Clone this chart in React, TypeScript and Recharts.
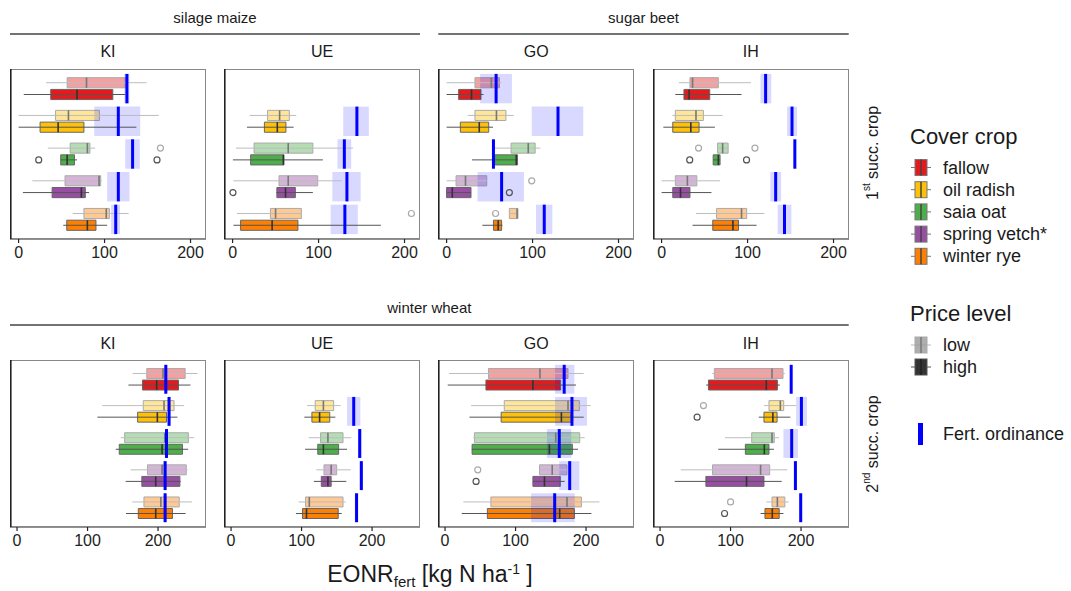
import React from 'react';
import { ComposedChart, XAxis, YAxis, Scatter, ReferenceArea, ReferenceLine } from 'recharts';

// ---------- categories ----------
const coverCrops = ['fallow', 'oil radish', 'saia oat', 'spring vetch*', 'winter rye'];
const priceLevels = ['low', 'high'];
const mainCrops = ['silage maize', 'sugar beet', 'winter wheat'];
const sites = ['KI', 'UE', 'GO', 'IH'];
const xTicks = [0, 100, 200];

// ---------- box stats: [min, q1, median, q3, max] per cover crop ----------
const maizeKI_low = [[32, 56.5, 79, 124, 149], [0, 43, 58, 94, 163], [34, 60, 80, 83, 89], [16, 54, 93.6, 95.5, 97], [63, 76, 102, 105.6, 128]];
const maizeKI_high = [[6, 37.4, 68, 109.6, 124], [0, 25, 46, 76, 137], [49, 49, 56.5, 65, 68], [5, 39, 73, 77.6, 82], [52, 56, 80, 90, 103]];
const maizeKI_fert = [[126, 123, 129], [116, 88, 141.5], [132.6, 124, 141], [116, 103, 129], [113, 107.6, 118]];
const maizeKI_outLow = [[2, 165]];
const maizeKI_outHigh = [[2, 23.4], [2, 161]];

const maizeUE_low = [null, [19.8, 40.7, 54.7, 66, 74], [3.9, 25, 64.7, 93.4, 140], [1, 54, 64.7, 99, 127], [5, 44, 50, 80, 80]];
const maizeUE_high = [null, [16.7, 37, 52, 62, 71], [0.4, 21, 59, 59.7, 105], [51, 51.5, 61.6, 73, 93.4], [1, 9.3, 46, 76, 172.5]];
const maizeUE_fert = [null, [144.6, 128.7, 158.5], [130, 122, 138], [133, 116, 149], [130.6, 114, 145.7]];
const maizeUE_outLow = [[4, 208]];
const maizeUE_outHigh = [[3, 0.4]];

const beetGO_low = [[0, 33, 52, 61.5, 64], [24.5, 33, 58, 69, 78], [55, 75, 95, 103, 109], [0, 11, 22, 46.7, 46.7], [73, 73, 82, 83, 83]];
const beetGO_high = [[0, 14, 29, 40, 43], [0, 16, 38, 49, 54], [29.6, 56, 81, 82.5, 82.5], [0, 0, 6.6, 28.4, 28.4], [41.6, 54.5, 60, 64, 65]];
const beetGO_fert = [[57.6, 39, 76], [129.6, 99, 159], [54.5, 54.5, 54.5], [64, 36, 90], [113.6, 104, 123]];
const beetGO_outLow = [[3, 99], [4, 57]];
const beetGO_outHigh = [[3, 73]];

const beetIH_low = [[20, 33, 36, 66, 104], [12.5, 16, 40, 48.6, 71], [65, 65, 71, 77.4, 77.4], [0, 16, 30, 41, 68], [40, 64, 93, 99, 119.5]];
const beetIH_high = [[16, 26, 32, 56, 93], [2, 13, 34, 43.6, 62], [60, 60, 66, 68, 68], [0, 13, 22, 33, 58], [36, 59.5, 83, 89.5, 110.5]];
const beetIH_fert = [[121, 115, 127.6], [151.7, 146, 157.6], [155, 155, 155], [132.7, 126.5, 139], [143, 135, 151]];
const beetIH_outLow = [[2, 43], [2, 108.6]];
const beetIH_outHigh = [[2, 32.7], [2, 98.8]];

const wheatKI_low = [[164, 184, 207, 238.4, 256], [121, 179, 208.5, 222.7, 237], [147, 152.6, 209.5, 243, 251], [161, 185, 205.7, 240, 242], [163.5, 180, 204, 230, 248]];
const wheatKI_high = [[158, 178, 198, 229, 246], [114, 171, 199, 212, 227.5], [140, 145, 205.7, 234.6, 242.7], [154, 177, 196.7, 231, 232], [154.5, 172, 196.7, 220.4, 239]];
const wheatKI_fert = [[211, 209, 213], [215.6, 213.5, 217.5], [212, 210, 214], [210, 208, 212], [210, 208, 212]];
const wheatKI_outLow: number[][] = [];
const wheatKI_outHigh: number[][] = [];

const wheatUE_low = [null, [108, 119.4, 131, 145.5, 155.5], [110, 127, 137.4, 158.8, 170.6], [120.9, 131.8, 142, 149.8, 169.7], [95.7, 105.7, 111, 158.8, 162.5]];
const wheatUE_high = [null, [104, 114.7, 125.6, 140, 148], [105, 123, 131, 152.6, 164.5], [117.5, 128, 137.4, 142, 163.5], [92, 101.4, 107, 152, 157]];
const wheatUE_fert = [null, [174, 164.5, 183.4], [182.5, 180, 185], [184.8, 182.5, 187], [178, 175.5, 180.5]];
const wheatUE_outLow: number[][] = [];
const wheatUE_outHigh: number[][] = [];

const wheatGO_low = [[5.7, 61.6, 134.6, 174.4, 196.7], [37, 84, 174.4, 190.5, 206.6], [40, 41.7, 157, 191, 198], [134, 134, 152, 173, 175], [26, 65, 173, 193.4, 219]];
const wheatGO_high = [[3.8, 58, 124.6, 164, 185.8], [34.6, 79.6, 165, 179, 196.7], [38, 38.4, 148, 180.6, 188.6], [124.6, 124.6, 141, 163.5, 169.7], [23.7, 60, 162.6, 183.4, 207.6]];
const wheatGO_fert = [[169, 156, 183.4], [180, 156, 201.4], [162, 144.5, 179], [176.8, 162, 190.5], [155.5, 122, 184]];
const wheatGO_outLow = [[3, 46.4]];
const wheatGO_outHigh = [[3, 44]];

const wheatIH_low = [[74, 77, 158.8, 174.4, 177], [147.4, 154.5, 170.6, 175.4, 193.4], [92, 130, 158.8, 162, 168.7], [29.4, 74.4, 142.6, 155.5, 180.6], [150.7, 158.8, 166.4, 177, 182.5]];
const wheatIH_high = [[65.4, 68.7, 150.7, 166.4, 170], [140, 147.4, 160, 166, 184.8], [82.5, 121, 147.9, 154.5, 161.6], [20.8, 65, 122.7, 147.4, 172.5], [142.6, 148.8, 159.2, 169, 175]];
const wheatIH_fert = [[186, 186, 186], [200.5, 193, 208.5], [186.7, 175, 195.7], [192, 190, 194], [199.5, 197.5, 201.5]];
const wheatIH_outLow = [[1, 61.6], [4, 100]];
const wheatIH_outHigh = [[1, 52.6], [4, 91.5]];

// ---------- styles ----------
const cropColors = ['#E41A1C', '#FFC107', '#4DAF4A', '#984EA3', '#FF7F00'];
const FONT = '"Liberation Sans", Arial, Helvetica, sans-serif';

type Stats = (number[] | null)[];
interface PanelDef {
  row: number; col: number;
  low: Stats; high: Stats; fert: (number[] | null)[];
  outLow: number[][]; outHigh: number[][];
}

const panels: PanelDef[] = [
  { row: 0, col: 0, low: maizeKI_low, high: maizeKI_high, fert: maizeKI_fert, outLow: maizeKI_outLow, outHigh: maizeKI_outHigh },
  { row: 0, col: 1, low: maizeUE_low, high: maizeUE_high, fert: maizeUE_fert, outLow: maizeUE_outLow, outHigh: maizeUE_outHigh },
  { row: 0, col: 2, low: beetGO_low, high: beetGO_high, fert: beetGO_fert, outLow: beetGO_outLow, outHigh: beetGO_outHigh },
  { row: 0, col: 3, low: beetIH_low, high: beetIH_high, fert: beetIH_fert, outLow: beetIH_outLow, outHigh: beetIH_outHigh },
  { row: 1, col: 0, low: wheatKI_low, high: wheatKI_high, fert: wheatKI_fert, outLow: wheatKI_outLow, outHigh: wheatKI_outHigh },
  { row: 1, col: 1, low: wheatUE_low, high: wheatUE_high, fert: wheatUE_fert, outLow: wheatUE_outLow, outHigh: wheatUE_outHigh },
  { row: 1, col: 2, low: wheatGO_low, high: wheatGO_high, fert: wheatGO_fert, outLow: wheatGO_outLow, outHigh: wheatGO_outHigh },
  { row: 1, col: 3, low: wheatIH_low, high: wheatIH_high, fert: wheatIH_fert, outLow: wheatIH_outLow, outHigh: wheatIH_outHigh },
];

// layout
const PANEL_LEFT = [10, 224, 438.3, 652.7];
const PANEL_W = 196;
const ROW_TOP = [69, 360];
const ROW_H = [170, 167];
const ROW_DOMAIN: [number, number][] = [[-10, 218], [-10, 268]];
const Y_DOMAIN: [number, number] = [-0.6, 4.6];
const OFF = 0.18;   // offset of low/high rows from group centre
const HALF = 0.155; // half box height
const FERT_HALF = 0.45;

function Panel({ p }: { p: PanelDef }) {
  const left = PANEL_LEFT[p.col];
  const top = ROW_TOP[p.row];
  const h = ROW_H[p.row];
  const els: React.ReactNode[] = [];
  [p.low, p.high].forEach((stats, lvl) => {
    stats.forEach((s, c) => {
      if (!s) return;
      const y = c + (lvl === 0 ? -OFF : OFF);
      const [mn, q1, md, q3, mx] = s;
      els.push(
        <ReferenceLine key={`w${lvl}${c}`} segment={[{ x: mn, y }, { x: mx, y }]} stroke={lvl ? '#555' : '#bdbdbd'} strokeWidth={1} ifOverflow="visible" />
      );
      els.push(
        <ReferenceArea key={`b${lvl}${c}`} x1={q1} x2={q3} y1={y - HALF} y2={y + HALF} fill={cropColors[c]} fillOpacity={lvl ? 1 : 0.42} stroke={lvl ? '#666' : '#aaa'} strokeWidth={1} ifOverflow="visible" />
      );
      els.push(
        <ReferenceLine key={`m${lvl}${c}`} segment={[{ x: md, y: y - HALF }, { x: md, y: y + HALF }]} stroke={lvl ? '#333' : '#777'} strokeWidth={1.6} ifOverflow="visible" />
      );
    });
  });
  const fertEls: React.ReactNode[] = [];
  p.fert.forEach((f, c) => {
    if (!f) return;
    const [v, lo, hi] = f;
    if (hi > lo) {
      fertEls.push(
        <ReferenceArea key={`fa${c}`} x1={lo} x2={hi} y1={c - FERT_HALF} y2={c + FERT_HALF} fill="#0000ff" fillOpacity={0.15} stroke="none" ifOverflow="visible" />
      );
    }
    fertEls.push(
      <ReferenceLine key={`fl${c}`} segment={[{ x: v, y: c - FERT_HALF }, { x: v, y: c + FERT_HALF }]} stroke="#0000ff" strokeWidth={3} ifOverflow="visible" />
    );
  });
  const outLow = p.outLow.map(([c, v]) => ({ x: v, y: c - OFF }));
  const outHigh = p.outHigh.map(([c, v]) => ({ x: v, y: c + OFF }));
  return (
    <div style={{ position: 'absolute', left, top }}>
      <ComposedChart width={PANEL_W} height={h + 32} margin={{ top: 0, right: 0, bottom: 0, left: 0 }}>
        <XAxis type="number" dataKey="x" domain={ROW_DOMAIN[p.row]} allowDataOverflow ticks={xTicks} interval={0}
          tickSize={4} tickMargin={4} height={32} stroke="#222" strokeWidth={1.2}
          tick={{ fontSize: 16, fill: '#222', fontFamily: FONT }} />
        <YAxis type="number" dataKey="y" domain={Y_DOMAIN} allowDataOverflow reversed hide />
        {els}
        <Scatter data={outLow} isAnimationActive={false}
          shape={(props: any) => <circle cx={props.cx} cy={props.cy} r={3} fill="none" stroke="#aaa" strokeWidth={1.2} />} />
        <Scatter data={outHigh} isAnimationActive={false}
          shape={(props: any) => <circle cx={props.cx} cy={props.cy} r={3} fill="none" stroke="#555" strokeWidth={1.2} />} />
        {fertEls}
      </ComposedChart>
      <svg width={PANEL_W} height={h} style={{ position: 'absolute', left: 0, top: 0, pointerEvents: 'none' }}>
        <rect x={0.5} y={0.5} width={PANEL_W - 1} height={h - 1} fill="none" stroke="#888" strokeWidth={1} />
        <line x1={0.8} y1={0} x2={0.8} y2={h} stroke="#222" strokeWidth={1.6} />
      </svg>
    </div>
  );
}

function BoxKey({ x, y, fill, stroke, med, op = 1 }: any) {
  return (
    <g>
      <line x1={x - 4} x2={x + 16} y1={y} y2={y} stroke={stroke} strokeWidth={1} opacity={op} />
      <rect x={x} y={y - 8} width={12} height={16} fill={fill} fillOpacity={op} stroke={stroke} strokeWidth={1} />
      <line x1={x + 6} x2={x + 6} y1={y - 8} y2={y + 8} stroke={med} strokeWidth={1.5} />
    </g>
  );
}

export default function App() {
  const colCenter = (c: number) => PANEL_LEFT[c] + PANEL_W / 2;
  return (
    <div style={{ position: 'absolute', left: 0, top: 0, width: 1071, height: 591, background: '#fff', fontFamily: FONT }}>
      {panels.map((p, i) => <Panel key={i} p={p} />)}
      <svg width={1071} height={591} style={{ position: 'absolute', left: 0, top: 0, pointerEvents: 'none' }} fontFamily={FONT}>
        {/* strips: top row */}
        <text x={(PANEL_LEFT[0] + PANEL_LEFT[1] + PANEL_W) / 2} y={17} fontSize={15} textAnchor="middle" dominantBaseline="central" fill="#1a1a1a">{mainCrops[0]}</text>
        <line x1={PANEL_LEFT[0]} x2={PANEL_LEFT[1] + PANEL_W} y1={34} y2={34} stroke="#444" strokeWidth={1.3} />
        <text x={(PANEL_LEFT[2] + PANEL_LEFT[3] + PANEL_W) / 2} y={17} fontSize={15} textAnchor="middle" dominantBaseline="central" fill="#1a1a1a">{mainCrops[1]}</text>
        <line x1={PANEL_LEFT[2]} x2={PANEL_LEFT[3] + PANEL_W} y1={34} y2={34} stroke="#444" strokeWidth={1.3} />
        {sites.map((s, c) => (
          <text key={'t' + s} x={colCenter(c)} y={51} fontSize={16} textAnchor="middle" dominantBaseline="central" fill="#1a1a1a">{s}</text>
        ))}
        {/* strips: bottom row */}
        <text x={(PANEL_LEFT[0] + PANEL_LEFT[3] + PANEL_W) / 2} y={307} fontSize={15} textAnchor="middle" dominantBaseline="central" fill="#1a1a1a">{mainCrops[2]}</text>
        <line x1={PANEL_LEFT[0]} x2={PANEL_LEFT[3] + PANEL_W} y1={325} y2={325} stroke="#444" strokeWidth={1.3} />
        {sites.map((s, c) => (
          <text key={'b' + s} x={colCenter(c)} y={343} fontSize={16} textAnchor="middle" dominantBaseline="central" fill="#1a1a1a">{s}</text>
        ))}
        {/* row labels */}
        <text transform="translate(872,153) rotate(-90)" fontSize={16} textAnchor="middle" dominantBaseline="central" fill="#1a1a1a">
          1<tspan fontSize={10} dy={-6}>st</tspan><tspan dy={6}> succ. crop</tspan>
        </text>
        <text transform="translate(872,444) rotate(-90)" fontSize={16} textAnchor="middle" dominantBaseline="central" fill="#1a1a1a">
          2<tspan fontSize={10} dy={-6}>nd</tspan><tspan dy={6}> succ. crop</tspan>
        </text>
        {/* x axis title */}
        <text x={430} y={582} fontSize={23} textAnchor="middle" fill="#1a1a1a">
          EONR<tspan fontSize={15} dy={5}>fert</tspan><tspan dy={-5}> [kg N ha</tspan><tspan fontSize={14} dy={-8}>-1</tspan><tspan dy={8}> ]</tspan>
        </text>
        {/* legend: cover crop */}
        <text x={910} y={136} fontSize={22} dominantBaseline="central" fill="#1a1a1a">Cover crop</text>
        {coverCrops.map((cc, i) => (
          <g key={cc}>
            <BoxKey x={915} y={167.5 + i * 22.2} fill={cropColors[i]} stroke="#777" med="#444" />
            <text x={943} y={167.5 + i * 22.2} fontSize={18} dominantBaseline="central" fill="#1a1a1a">{cc}</text>
          </g>
        ))}
        {/* legend: price level */}
        <text x={910} y={313} fontSize={22} dominantBaseline="central" fill="#1a1a1a">Price level</text>
        <BoxKey x={915} y={345} fill="#9a9a9a" stroke="#aaa" med="#777" op={0.8} />
        <text x={943} y={345} fontSize={18} dominantBaseline="central" fill="#1a1a1a">{priceLevels[0]}</text>
        <BoxKey x={915} y={367} fill="#333" stroke="#555" med="#222" />
        <text x={943} y={367} fontSize={18} dominantBaseline="central" fill="#1a1a1a">{priceLevels[1]}</text>
        {/* legend: fert ordinance */}
        <rect x={918} y={423} width={5} height={22} fill="#0000ff" />
        <text x={943} y={434} fontSize={18} dominantBaseline="central" fill="#1a1a1a">Fert. ordinance</text>
      </svg>
    </div>
  );
}
